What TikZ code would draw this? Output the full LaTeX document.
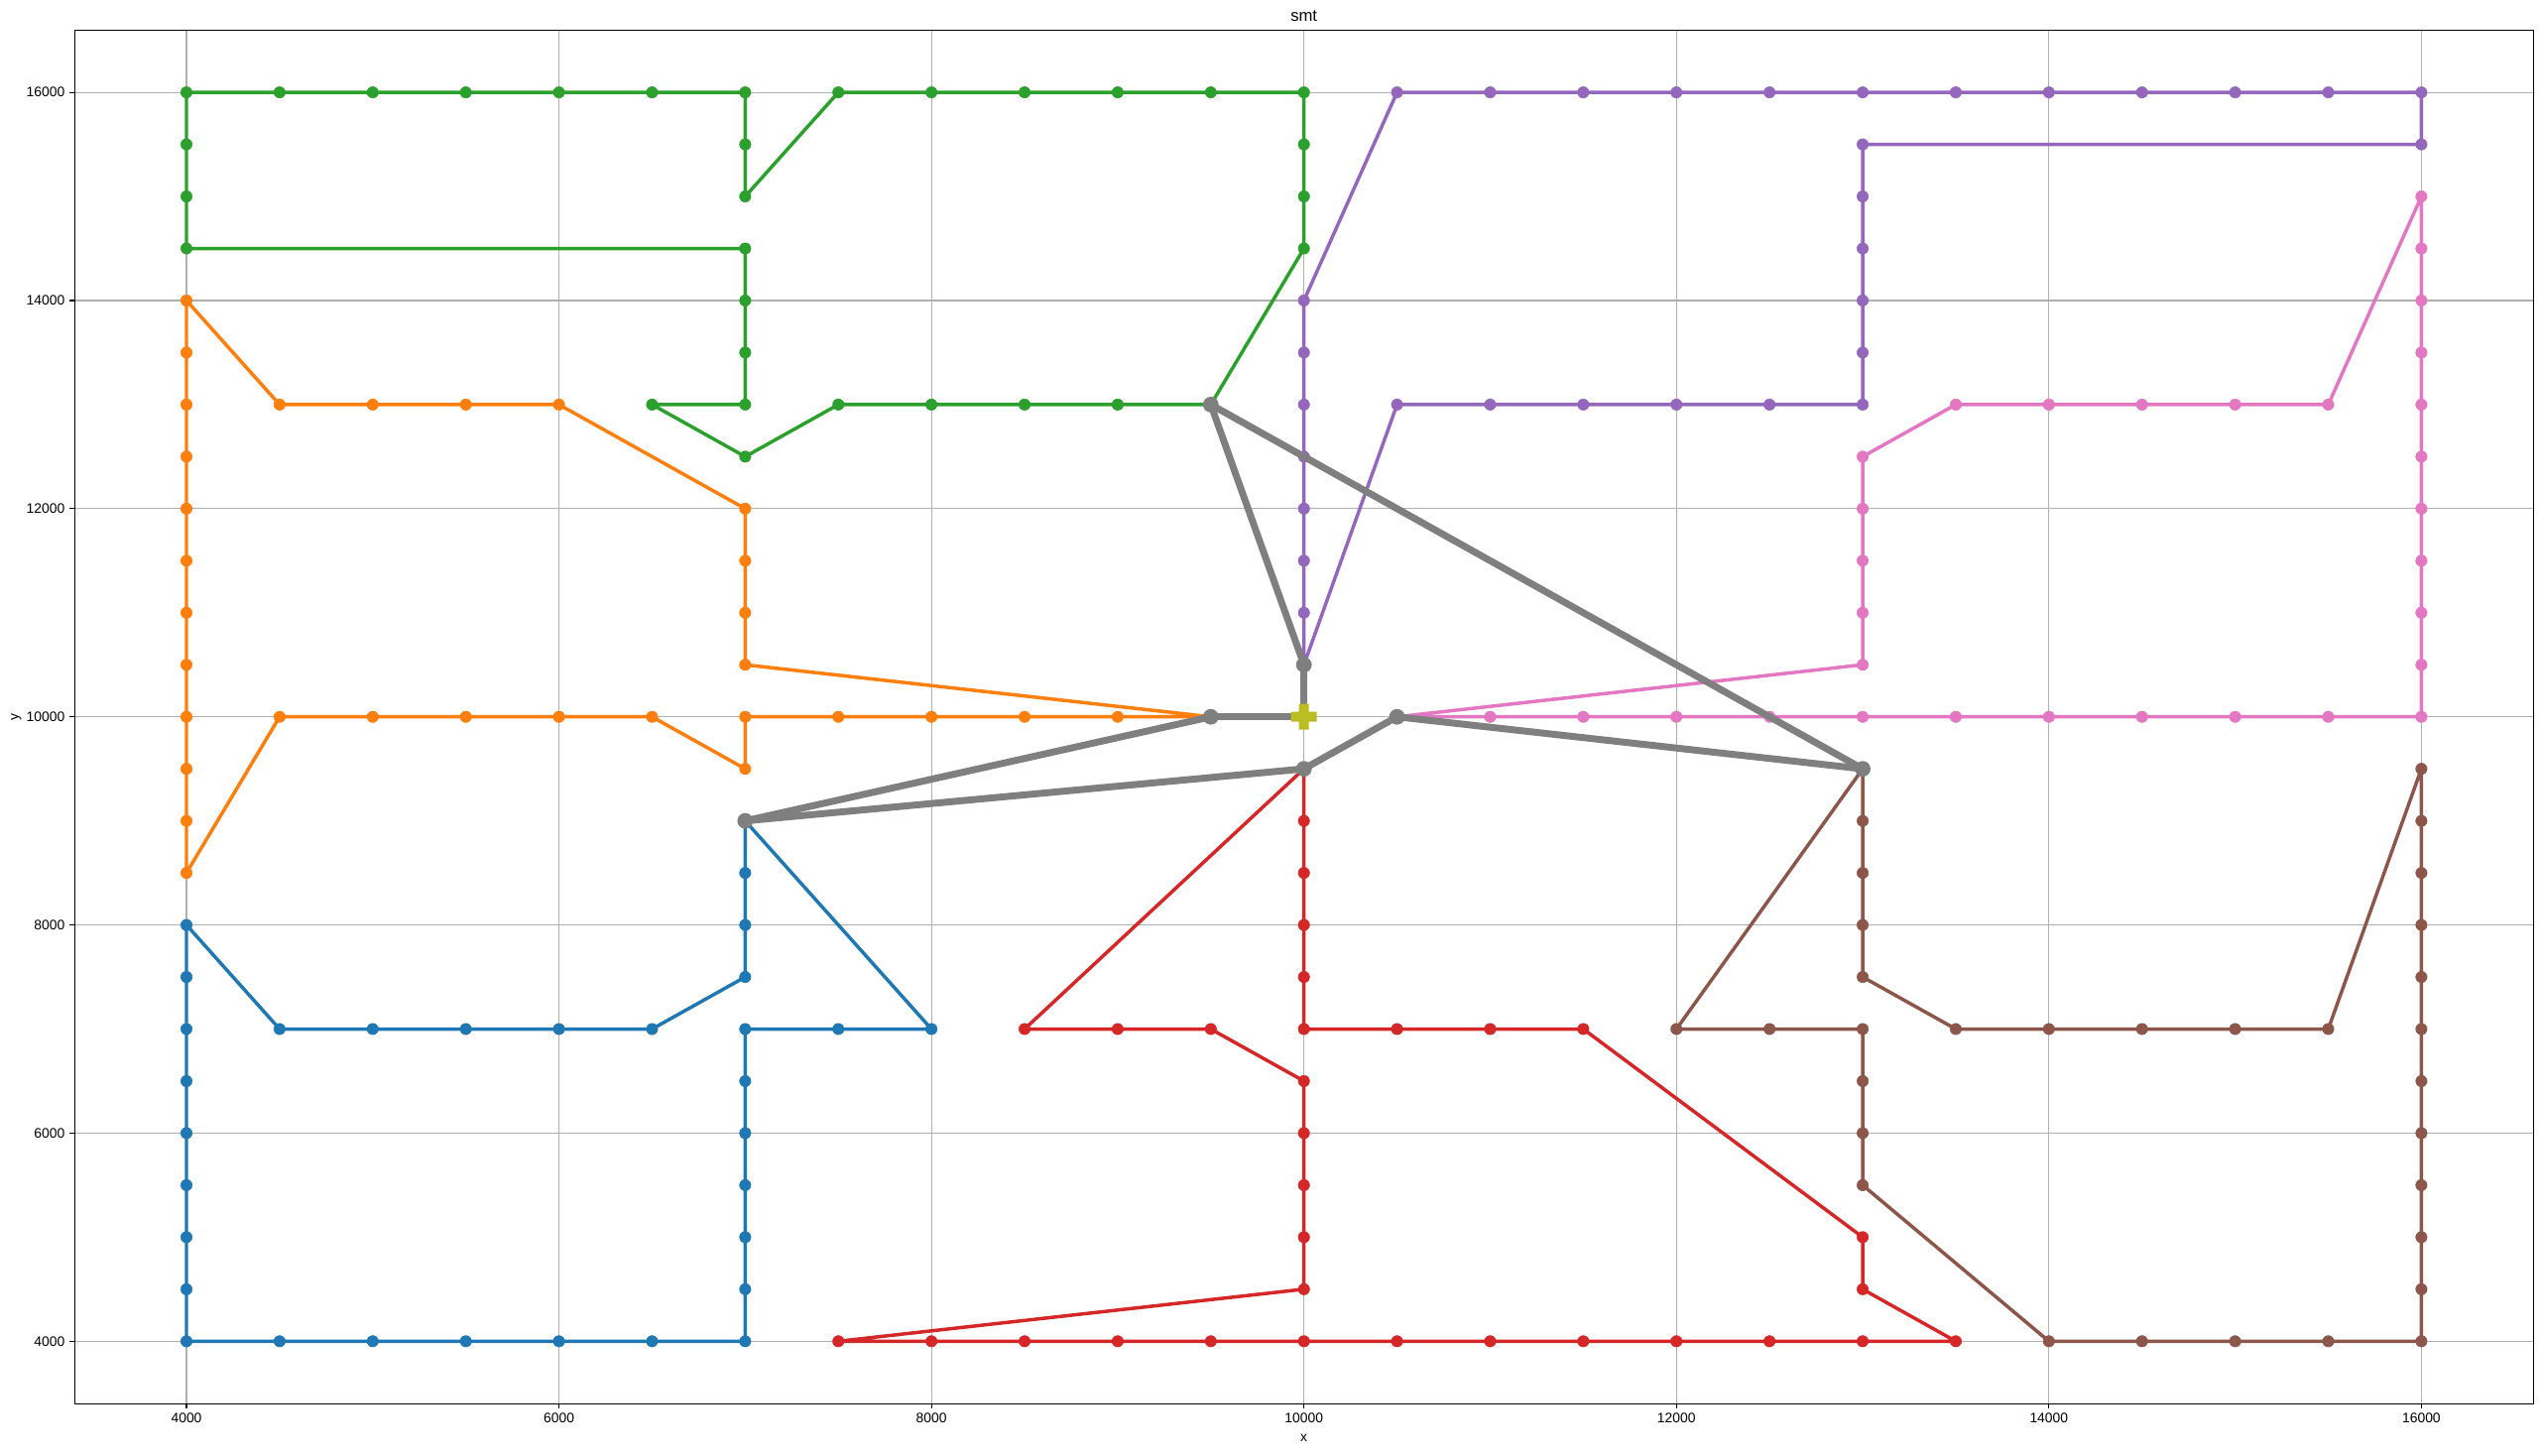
\documentclass[tikz,border=0pt]{standalone}
\usepackage{fontspec}
\setmainfont{Liberation Sans}
\definecolor{cB}{HTML}{1F77B4}
\definecolor{cO}{HTML}{FF7F0E}
\definecolor{cG}{HTML}{2CA02C}
\definecolor{cR}{HTML}{D62728}
\definecolor{cP}{HTML}{9467BD}
\definecolor{cN}{HTML}{8C564B}
\definecolor{cK}{HTML}{E377C2}
\definecolor{cY}{HTML}{7F7F7F}
\definecolor{cS}{HTML}{BCBD22}
\definecolor{gridc}{HTML}{B0B0B0}
\tikzset{
  route/.style={line width=2.5pt, line join=round, mark=*, mark size=4.1pt, mark options={line width=0.4pt}},
  gedge/.style={draw=cY, line width=5pt, line cap=round},
  gnode/.style={fill=cY},
  gridl/.style={draw=gridc, line width=0.8pt},
  ticklab/.style={font=\fontsize{10}{12}\selectfont, inner sep=0pt},
}
\begin{document}
\begin{tikzpicture}[x=135.20pt, y=75.55pt]
\useasboundingbox[fill=white] (2.99883,2.9069) rectangle (16.6531,16.8876);
% grid
\foreach \v in {4,6,...,16} {
  \draw[gridl] (\v,3.4) -- (\v,16.6);
  \draw[gridl] (3.4,\v) -- (16.6,\v);
}
% blue
\draw[cB, route] plot coordinates {(7,9) (8,7) (7.5,7) (7,7) (7,6.5) (7,6) (7,5.5) (7,5) (7,4.5) (7,4) (6.5,4) (6,4) (5.5,4) (5,4) (4.5,4) (4,4) (4,4.5) (4,5) (4,5.5) (4,6) (4,6.5) (4,7) (4,7.5) (4,8) (4.5,7) (5,7) (5.5,7) (6,7) (6.5,7) (7,7.5) (7,8) (7,8.5) (7,9)};
% orange
\draw[cO, route] plot coordinates {(9.5,10) (7,10.5) (7,11) (7,11.5) (7,12) (6,13) (5.5,13) (5,13) (4.5,13) (4,14) (4,13.5) (4,13) (4,12.5) (4,12) (4,11.5) (4,11) (4,10.5) (4,10) (4,9.5) (4,9) (4,8.5) (4.5,10) (5,10) (5.5,10) (6,10) (6.5,10) (7,9.5) (7,10) (7.5,10) (8,10) (8.5,10) (9,10) (9.5,10)};
% green
\draw[cG, route] plot coordinates {(9.5,13) (10,14.5) (10,15) (10,15.5) (10,16) (9.5,16) (9,16) (8.5,16) (8,16) (7.5,16) (7,15) (7,15.5) (7,16) (6.5,16) (6,16) (5.5,16) (5,16) (4.5,16) (4,16) (4,15.5) (4,15) (4,14.5) (7,14.5) (7,14) (7,13.5) (7,13) (6.5,13) (7,12.5) (7.5,13) (8,13) (8.5,13) (9,13) (9.5,13)};
% red
\draw[cR, route] plot coordinates {(10,9.5) (10,9) (10,8.5) (10,8) (10,7.5) (10,7) (10.5,7) (11,7) (11.5,7) (13,5) (13,4.5) (13.5,4) (13,4) (12.5,4) (12,4) (11.5,4) (11,4) (10.5,4) (10,4) (9.5,4) (9,4) (8.5,4) (8,4) (7.5,4) (10,4.5) (10,5) (10,5.5) (10,6) (10,6.5) (9.5,7) (9,7) (8.5,7) (10,9.5)};
% purple
\draw[cP, route] plot coordinates {(10,10.5) (10,11) (10,11.5) (10,12) (10,12.5) (10,13) (10,13.5) (10,14) (10.5,16) (11,16) (11.5,16) (12,16) (12.5,16) (13,16) (13.5,16) (14,16) (14.5,16) (15,16) (15.5,16) (16,16) (16,15.5) (13,15.5) (13,15) (13,14.5) (13,14) (13,13.5) (13,13) (12.5,13) (12,13) (11.5,13) (11,13) (10.5,13) (10,10.5)};
% brown
\draw[cN, route] plot coordinates {(13,9.5) (13,9) (13,8.5) (13,8) (13,7.5) (13.5,7) (14,7) (14.5,7) (15,7) (15.5,7) (16,9.5) (16,9) (16,8.5) (16,8) (16,7.5) (16,7) (16,6.5) (16,6) (16,5.5) (16,5) (16,4.5) (16,4) (15.5,4) (15,4) (14.5,4) (14,4) (13,5.5) (13,6) (13,6.5) (13,7) (12.5,7) (12,7) (13,9.5)};
% pink
\draw[cK, route] plot coordinates {(10.5,10) (13,10.5) (13,11) (13,11.5) (13,12) (13,12.5) (13.5,13) (14,13) (14.5,13) (15,13) (15.5,13) (16,15) (16,14.5) (16,14) (16,13.5) (16,13) (16,12.5) (16,12) (16,11.5) (16,11) (16,10.5) (16,10) (15.5,10) (15,10) (14.5,10) (14,10) (13.5,10) (13,10) (12.5,10) (12,10) (11.5,10) (11,10) (10.5,10)};
% steiner tree (gray)
\coordinate (a) at (9.5,13);
\coordinate (b) at (10,10.5);
\coordinate (c) at (9.5,10);
\coordinate (s) at (10,10);
\coordinate (d) at (10.5,10);
\coordinate (e) at (10,9.5);
\coordinate (f) at (7,9);
\coordinate (g) at (13,9.5);
\draw[gedge] (a) -- (b);
\draw[gedge] (a) -- (g);
\draw[gedge] (b) -- (s);
\draw[gedge] (c) -- (s);
\draw[gedge] (f) -- (c);
\draw[gedge] (f) -- (e);
\draw[gedge] (e) -- (d);
\draw[gedge] (d) -- (g);
\foreach \n in {a,b,c,d,e,f,g} { \fill[gnode] (\n) circle (5.7pt); }
% source marker (filled plus)
\fill[cS, shift={(s)}] (-3.6pt,-9.35pt) -- (3.6pt,-9.35pt) -- (3.6pt,-3.6pt) -- (9.35pt,-3.6pt) -- (9.35pt,3.6pt) -- (3.6pt,3.6pt) -- (3.6pt,9.35pt) -- (-3.6pt,9.35pt) -- (-3.6pt,3.6pt) -- (-9.35pt,3.6pt) -- (-9.35pt,-3.6pt) -- (-3.6pt,-3.6pt) -- cycle;
% axes frame
\draw[line width=0.8pt] (3.4,3.4) rectangle (16.6,16.6);
% ticks and tick labels
\foreach \v/\l in {4/4000,6/6000,8/8000,10/10000,12/12000,14/14000,16/16000} {
  \draw[line width=0.8pt] (\v,3.4) -- ++(0,-3.5pt);
  \node[ticklab, anchor=north] at ([yshift=-7pt]\v,3.4) {\l};
  \draw[line width=0.8pt] (3.4,\v) -- ++(-3.5pt,0);
  \node[ticklab, anchor=east] at ([xshift=-7pt]3.4,\v) {\l};
}
% labels
\node[font=\fontsize{12}{14}\selectfont, inner sep=0pt, anchor=base] at ([yshift=6pt]10,16.6) {smt};
\node[ticklab, anchor=base] at ([yshift=-27.5pt]10,3.4) {x};
\node[ticklab, rotate=90, anchor=base] at ([xshift=-40.9pt]3.4,10) {y};
\end{tikzpicture}
\end{document}
